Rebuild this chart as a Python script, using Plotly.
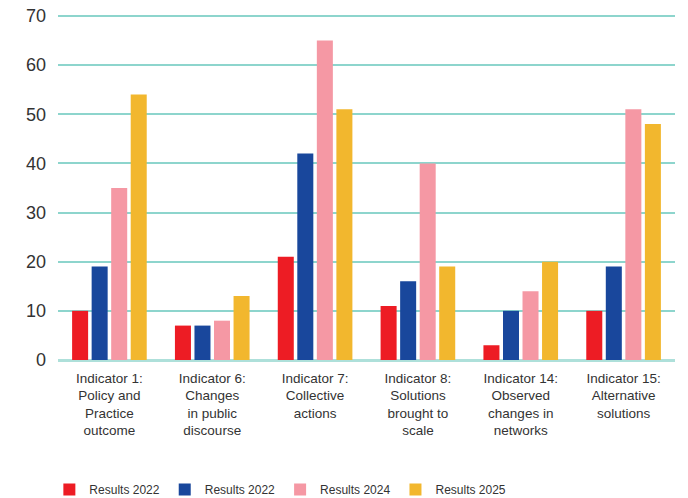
import plotly.graph_objects as go

categories = [
    "Indicator 1:<br>Policy and<br>Practice<br>outcome",
    "Indicator 6:<br>Changes<br>in public<br>discourse",
    "Indicator 7:<br>Collective<br>actions",
    "Indicator 8:<br>Solutions<br>brought to<br>scale",
    "Indicator 14:<br>Observed<br>changes in<br>networks",
    "Indicator 15:<br>Alternative<br>solutions",
]
series_names = ["Results 2022", "Results 2022", "Results 2024", "Results 2025"]
results_a = [10, 7, 21, 11, 3, 10]
results_b = [19, 7, 42, 16, 10, 19]
results_2024 = [35, 8, 65, 40, 14, 51]
results_2025 = [54, 13, 51, 19, 20, 48]
colors = ["#ED1C24", "#19479C", "#F598A4", "#F2B72E"]
y_ticks = [0, 10, 20, 30, 40, 50, 60, 70]

fig = go.Figure()
for name, vals, col in zip(series_names, [results_a, results_b, results_2024, results_2025], colors):
    fig.add_trace(go.Bar(x=categories, y=vals, name=name, marker=dict(color=col, line=dict(width=0))))

lab_font = "Liberation Sans, Arial, sans-serif"
fig.update_layout(
    width=688, height=498,
    margin=dict(l=58, r=13, t=11, b=138, autoexpand=False),
    paper_bgcolor="white", plot_bgcolor="white",
    barmode="group", bargap=0.24, bargroupgap=0.18,
    font=dict(family=lab_font, color="#333333"),
    showlegend=True,
    legend=dict(orientation="h", x=-0.014, xanchor="left", y=-0.371, yanchor="middle",
                font=dict(family=lab_font, size=12, color="#333333"),
                traceorder="normal"),
    xaxis=dict(showgrid=False, showline=False, zeroline=False, ticks="", automargin=False,
               ticklabelstandoff=8,
               tickfont=dict(family=lab_font, size=13.5, color="#333333")),
    yaxis=dict(range=[0, 71], tickvals=y_ticks, showgrid=True, gridcolor="#8dd5cd", gridwidth=1.5,
               zeroline=True, zerolinecolor="#aee0da", zerolinewidth=2.5, automargin=False,
               showline=False, ticks="", ticklabelstandoff=11,
               tickfont=dict(size=18, color="#333333")),
)
fig.write_html("out.html")
